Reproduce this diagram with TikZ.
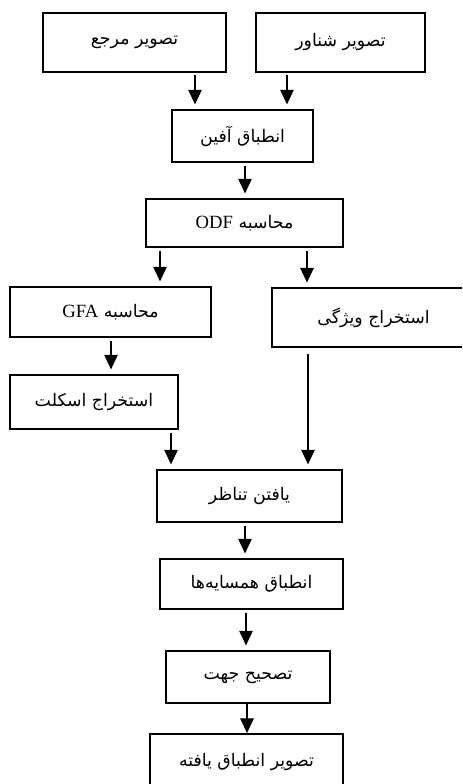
\documentclass[tikz,border=0pt]{standalone}
\usepackage{fontspec}
\setmainfont{Liberation Serif}
\newfontfamily\farsi[Script=Arabic]{DejaVu Sans}
\TeXXeTstate=1
\usetikzlibrary{arrows.meta}

\begin{document}
\begin{tikzpicture}[x=0.75pt, y=-0.75pt,
    stage/.style={draw, line width=1.3pt, inner sep=0pt, font=\farsi\fontsize{13}{15}\selectfont},
    flow/.style={-{Triangle[length=11pt, width=10pt]}, line width=1.3pt, shorten <=2pt, shorten >=3.5pt}]
    \useasboundingbox (0,0) rectangle (462,784);
    \clip (0,0) rectangle (462,784);

    \node (reference) [stage, minimum width=137pt, minimum height=44pt] at (134.5,42.5) {\beginR تصویر مرجع\endR};
    \node (floating) [stage, minimum width=127pt, minimum height=44pt] at (340.5,42.5) {\beginR تصویر شناور\endR};
    \node (affine) [stage, minimum width=106pt, minimum height=39pt] at (242.5,136) {\beginR انطباق آفین\endR};
    \node (odf) [stage, minimum width=148pt, minimum height=36pt] at (244.5,223) {\beginR محاسبه \beginL{\rmfamily\fontsize{14}{16}\selectfont ODF}\endL\endR};
    \node (gfa) [stage, minimum width=151pt, minimum height=37.5pt] at (110.5,312) {\beginR محاسبه \beginL{\rmfamily\fontsize{14}{16}\selectfont GFA}\endL\endR};
    \node (feature) [stage, minimum width=152pt, minimum height=44pt] at (373.5,317.5) {\beginR استخراج ویژگی\endR};
    \node (skeleton) [stage, minimum width=126pt, minimum height=40.5pt] at (94,402) {\beginR استخراج اسکلت\endR};
    \node (match) [stage, minimum width=139pt, minimum height=39pt] at (249.5,496) {\beginR یافتن تناظر\endR};
    \node (neighbours) [stage, minimum width=137pt, minimum height=37.5pt] at (251.5,584) {\beginR انطباق همسایه‌ها\endR};
    \node (orientation) [stage, minimum width=123pt, minimum height=39pt] at (248,677) {\beginR تصحیح جهت\endR};
    \node (result) [stage, minimum width=145pt, minimum height=42pt] at (246.5,762) {\beginR تصویر انطباق یافته\endR};

    \draw [flow] (reference.south -| 195,0) -- (affine.north -| 195,0);
    \draw [flow] (floating.south -| 287,0) -- (affine.north -| 287,0);
    \draw [flow] (affine.south -| 245,0) -- (odf.north -| 245,0);
    \draw [flow] (odf.south -| 160,0) -- (gfa.north -| 160,0);
    \draw [flow] (odf.south -| 307,0) -- (feature.north -| 307,0);
    \draw [flow] (gfa.south -| 111,0) -- (skeleton.north -| 111,0);
    \draw [flow, shorten <=4.5pt] (feature.south -| 308,0) -- (match.north -| 308,0);
    \draw [flow] (skeleton.south -| 171,0) -- (match.north -| 171,0);
    \draw [flow] (match.south -| 245,0) -- (neighbours.north -| 245,0);
    \draw [flow] (neighbours.south -| 246,0) -- (orientation.north -| 246,0);
    \draw [flow, shorten <=0pt, shorten >=0pt] (orientation.south -| 247,0) -- (result.north -| 247,0);
\end{tikzpicture}
\end{document}
